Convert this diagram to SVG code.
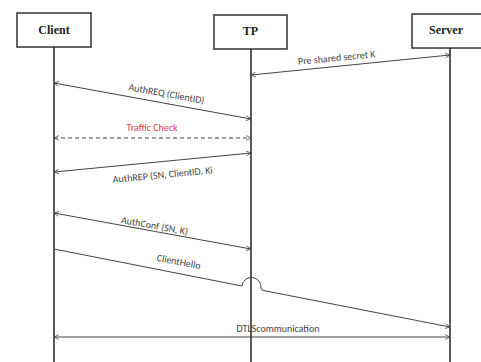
<svg xmlns="http://www.w3.org/2000/svg" width="481" height="362" viewBox="0 0 481 362">
<style>
.box{fill:#fff;stroke:#333;stroke-width:1.5}
.life{stroke:#222;stroke-width:1.5;fill:none}
.msg{stroke:#444;stroke-width:1;fill:none;marker-start:url(#ah);marker-end:url(#ah)}
.t{font-family:"Liberation Serif","Times New Roman",serif;font-weight:bold;font-size:12px;fill:#222;text-anchor:middle}
.l{font-family:"Carlito","Liberation Sans","DejaVu Sans",sans-serif;font-size:10px;fill:#444;text-anchor:middle}
</style>
<defs>
<marker id="ah" viewBox="0 0 10 10" refX="9" refY="5" markerWidth="6" markerHeight="6" orient="auto-start-reverse" markerUnits="userSpaceOnUse">
<path d="M1,1 L9,5 L1,9" fill="none" stroke="#444" stroke-width="1.3"/>
</marker>
</defs>
<g id="client"><rect class="box" x="17" y="13" width="74" height="34"/><text class="t" x="54" y="34">Client</text></g>
<g id="tp"><rect class="box" x="214" y="15" width="73" height="34"/><text class="t" x="250.5" y="35">TP</text></g>
<g id="server"><rect class="box" x="412" y="14" width="75" height="34"/><text class="t" x="446" y="34">Server</text></g>
<g id="connectors">
<line class="life" x1="54" y1="47" x2="54" y2="362"/>
<line class="life" x1="251" y1="49" x2="251" y2="362"/>
<line class="life" x1="450" y1="48" x2="450" y2="362"/>
<line class="msg" x1="251" y1="75" x2="450" y2="55"/>
<line class="msg" x1="54" y1="83" x2="251" y2="119"/>
<line class="msg" x1="54" y1="138" x2="251" y2="138" stroke-dasharray="4,3"/>
<line class="msg" x1="54" y1="172" x2="251" y2="153"/>
<line class="msg" x1="54" y1="213" x2="251" y2="249"/>
<path d="M54,249 L242,286 A9.5,9.5 0 0 1 261,288 L262,290 L266,291 L450,327" fill="none" stroke="#444" stroke-width="1" marker-end="url(#ah)"/>
<line class="msg" x1="54" y1="337" x2="450" y2="337"/>
</g>
<g id="labels">
<text class="l" transform="translate(337,61) rotate(-5.7)">Pre shared secret K</text>
<text class="l" transform="translate(166,97) rotate(10.3)">AuthREQ (ClientID)</text>
<text class="l" x="152" y="131" style="fill:#e04050">Traffic Check</text>
<text class="l" transform="translate(163,178) rotate(-5.5)">AuthREP (SN, ClientID, Ki</text>
<text class="l" transform="translate(154,229) rotate(10.3)">AuthConf (SN, K)</text>
<text class="l" transform="translate(178,265) rotate(11)">ClientHello</text>
<text class="l" x="278" y="332">DTLScommunication</text>
</g>
</svg>
